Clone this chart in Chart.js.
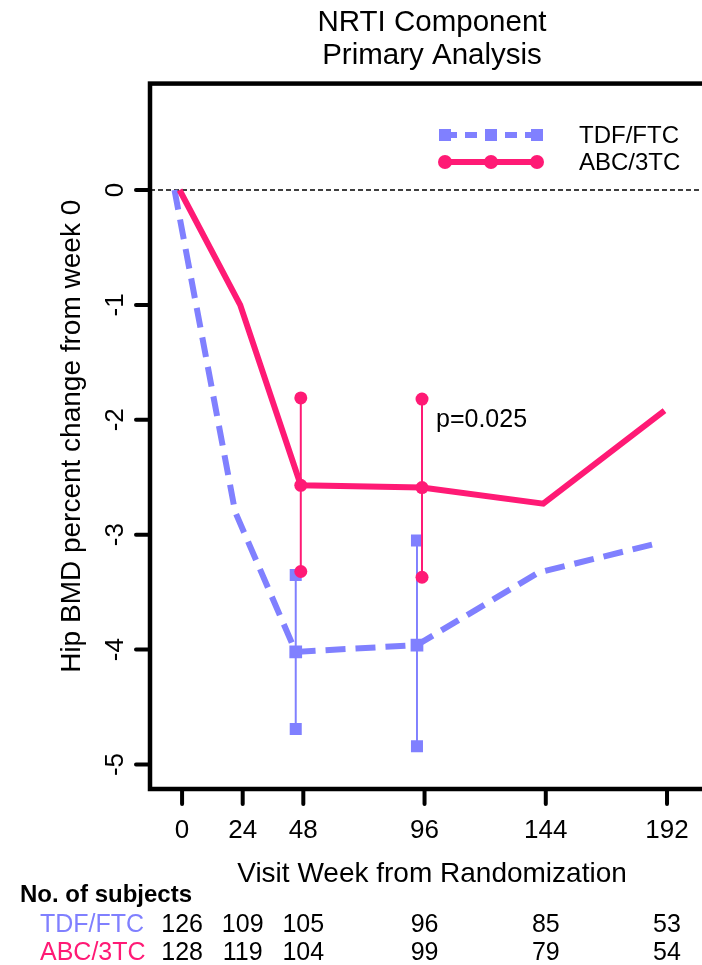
<!DOCTYPE html>
<html>
<head>
<meta charset="utf-8">
<title>NRTI Component - Hip BMD</title>
<script src="https://cdn.jsdelivr.net/npm/chart.js@4.4.1/dist/chart.umd.min.js"></script>
<style>
  html, body { margin: 0; padding: 0; overflow: hidden; background: #fff; }
  #wrap { position: relative; width: 740px; height: 965px; }
</style>
</head>
<body>
<div id="wrap"><canvas id="bmd-chart"></canvas></div>
<script>

// DATA

const weeks = [0, 24, 48, 96, 144, 192];
const tdfFtc = [0, -2.8, -4.02, -3.96, -3.33, -3.07];
const abc3tc = [0, -1.0, -2.57, -2.59, -2.73, -1.92];

// 95% CI shown at week 48 and 96 only
const errWeeks = [48, 96];
const tdfLow = [-4.69, -4.84];
const tdfHigh = [-3.35, -3.05];
const abcLow = [-3.32, -3.37];
const abcHigh = [-1.81, -1.82];

const tdfSubjects = [126, 109, 105, 96, 85, 53];
const abcSubjects = [128, 119, 104, 99, 79, 54];

const xTicks = [0, 24, 48, 96, 144, 192];
const yTicks = [0, -1, -2, -3, -4, -5];
const seriesNames = ['TDF/FTC', 'ABC/3TC'];
const pLabel = 'p=0.025';

// the two groups are drawn slightly side by side (in weeks)
const tdfShift = -3;
const abcShift = -1;

const xMin = -12.7, xMax = 210.6;
const yMin = -5.213, yMax = 0.926;

const blue = '#8080ff';
const pink = '#ff1a75';
const font = '"Liberation Sans", Arial, Helvetica, sans-serif';

// helpers
function toPoints(vals, shift) {
  return weeks.map(function (w, i) { return { x: w + shift, y: vals[i] }; });
}

function markerSizes(r) {
  return weeks.map(function (w) { return errWeeks.includes(w) ? r : 0; });
}

function errorBars(lows, highs, shift, color, style, r) {
  return errWeeks.map(function (w, i) {
    return {
      data: [{ x: w + shift, y: highs[i] }, { x: w + shift, y: lows[i] }],
      borderColor: color,
      borderWidth: 2,
      pointStyle: style,
      pointRadius: r,
      pointBackgroundColor: color,
      pointBorderWidth: 0
    };
  });
}

// AXES, LEGEND, LABELS (drawn over the chart area)
const framePlugin = {
  id: 'frame',
  afterDraw(chart) {
    const ctx = chart.ctx;
    const a = chart.chartArea;
    const xs = chart.scales.x;
    const ys = chart.scales.y;
    ctx.save();

    // box
    ctx.strokeStyle = '#000';
    ctx.lineWidth = 4.5;
    ctx.strokeRect(a.left, a.top, a.right - a.left, a.bottom - a.top);

    // tick marks
    ctx.lineWidth = 4;
    ctx.lineCap = 'round';
    yTicks.forEach(function (v) {
      const py = ys.getPixelForValue(v);
      ctx.beginPath(); ctx.moveTo(a.left - 14, py); ctx.lineTo(a.left, py); ctx.stroke();
    });
    xTicks.forEach(function (w) {
      const px = xs.getPixelForValue(w);
      ctx.beginPath(); ctx.moveTo(px, a.bottom); ctx.lineTo(px, a.bottom + 15); ctx.stroke();
    });

    ctx.fillStyle = '#000';

    // x tick labels
    ctx.font = '26px ' + font;
    ctx.textAlign = 'center';
    ctx.textBaseline = 'alphabetic';
    xTicks.forEach(function (w) {
      ctx.fillText(String(w), xs.getPixelForValue(w), a.bottom + 49);
    });

    // y tick labels (rotated)
    yTicks.forEach(function (v) {
      ctx.save();
      ctx.translate(a.left - 27, ys.getPixelForValue(v));
      ctx.rotate(-Math.PI / 2);
      ctx.fillText(String(v), 0, 0);
      ctx.restore();
    });

    // axis titles
    ctx.font = '28px ' + font;
    ctx.fillText('Visit Week from Randomization', (a.left + a.right) / 2, a.bottom + 93);
    ctx.save();
    ctx.translate(80, (a.top + a.bottom) / 2);
    ctx.rotate(-Math.PI / 2);
    ctx.fillText('Hip BMD percent change from week 0', 0, 0);
    ctx.restore();

    // p value
    ctx.font = '25px ' + font;
    ctx.textAlign = 'left';
    ctx.fillText(pLabel, 436, 427);

    // legend
    ctx.lineCap = 'butt';
    ctx.strokeStyle = blue;
    ctx.fillStyle = blue;
    ctx.lineWidth = 6;
    ctx.setLineDash([12, 8]);
    ctx.beginPath(); ctx.moveTo(445, 135); ctx.lineTo(537, 135); ctx.stroke();
    ctx.setLineDash([]);
    [445, 491, 537].forEach(function (lx) { ctx.fillRect(lx - 6, 129, 12, 12); });

    ctx.strokeStyle = pink;
    ctx.fillStyle = pink;
    ctx.beginPath(); ctx.moveTo(445, 162); ctx.lineTo(537, 162); ctx.stroke();
    [445, 491, 537].forEach(function (lx) {
      ctx.beginPath(); ctx.arc(lx, 162, 7, 0, Math.PI * 2); ctx.fill();
    });

    ctx.fillStyle = '#000';
    ctx.font = '24px ' + font;
    ctx.fillText(seriesNames[0], 579, 143);
    ctx.fillText(seriesNames[1], 579, 170);

    // number of subjects table
    ctx.font = 'bold 24px ' + font;
    ctx.fillText('No. of subjects', 20, 902);
    ctx.font = '25px ' + font;
    ctx.fillStyle = blue;
    ctx.fillText(seriesNames[0], 40, 932);
    ctx.fillStyle = pink;
    ctx.fillText(seriesNames[1], 40, 960);
    ctx.fillStyle = '#000';
    ctx.textAlign = 'center';
    weeks.forEach(function (w, i) {
      const px = xs.getPixelForValue(w);
      ctx.fillText(String(tdfSubjects[i]), px, 932);
      ctx.fillText(String(abcSubjects[i]), px, 960);
    });

    ctx.restore();
  }
};

// CHART

const datasets = [
  {
    label: seriesNames[1],
    data: toPoints(abc3tc, abcShift),
    borderColor: pink,
    borderWidth: 6,
    pointStyle: 'circle',
    pointRadius: markerSizes(6.5),
    pointBackgroundColor: pink,
    pointBorderWidth: 0
  },
  {
    label: seriesNames[0],
    data: toPoints(tdfFtc, tdfShift),
    borderColor: blue,
    borderWidth: 6,
    borderDash: [20, 10],
    pointStyle: 'rect',
    pointRadius: markerSizes(9),
    pointBackgroundColor: blue,
    pointBorderWidth: 0
  }
]
  .concat(errorBars(abcLow, abcHigh, abcShift, pink, 'circle', 6.5))
  .concat(errorBars(tdfLow, tdfHigh, tdfShift, blue, 'rect', 8.5))
  .concat([{
    // reference line at 0
    data: [{ x: xMin, y: 0 }, { x: xMax, y: 0 }],
    borderColor: '#000',
    borderWidth: 1.5,
    borderDash: [5, 3],
    pointRadius: 0
  }]);

const config = {
  type: 'line',
  data: { datasets: datasets },
  options: {
    responsive: true,
    maintainAspectRatio: false,
    animation: false,
    layout: { padding: { left: 150, right: 26, top: 0, bottom: 176 } },
    scales: {
      x: { type: 'linear', min: xMin, max: xMax, display: false },
      y: { type: 'linear', min: yMin, max: yMax, display: false }
    },
    plugins: {
      legend: { display: false },
      tooltip: { enabled: false },
      title: {
        display: true,
        fullSize: false,
        text: ['NRTI Component', 'Primary Analysis'],
        color: '#000',
        font: { family: font, size: 29.5, weight: 'normal', lineHeight: 1.12 },
        padding: { top: 6, bottom: 11.5 }
      }
    }
  },
  plugins: [framePlugin]
};

const bmdChart = new Chart(document.getElementById('bmd-chart'), config);
</script>
</body>
</html>
